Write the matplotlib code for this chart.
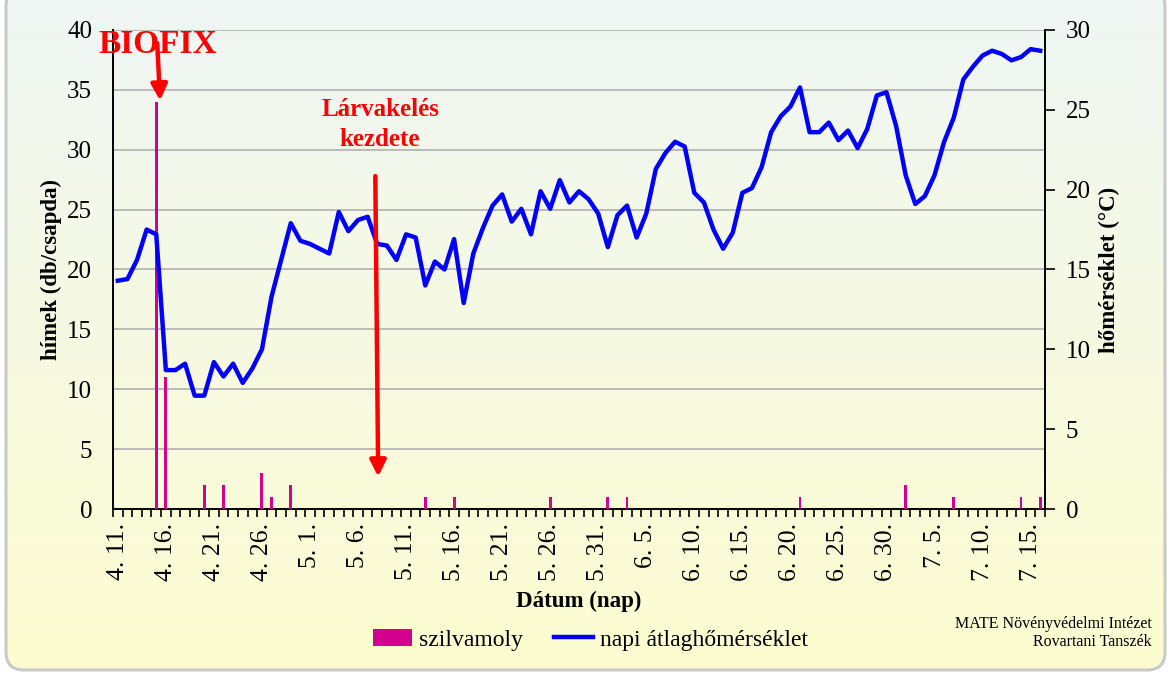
import numpy as np
import pandas as pd
import matplotlib
matplotlib.use('Agg')
import matplotlib.pyplot as plt
from matplotlib.patches import FancyBboxPatch
from matplotlib.ticker import MultipleLocator, FixedLocator

plt.rcParams['font.family'] = ['Liberation Serif', 'DejaVu Serif']

# Daily categories 4.11. .. 7.16.
days = pd.date_range('2023-04-11', '2023-07-16', freq='D')
day_labels = ['{}. {}.'.format(d.month, d.day) for d in days]

# szilvamoly catches (db/csapda), one value per day
moths = [0, 0, 0, 0, 34, 11, 0, 0, 0, 2,
         0, 2, 0, 0, 0, 3, 1, 0, 2, 0,
         0, 0, 0, 0, 0, 0, 0, 0, 0, 0,
         0, 0, 1, 0, 0, 1, 0, 0, 0, 0,
         0, 0, 0, 0, 0, 1, 0, 0, 0, 0,
         0, 1, 0, 1, 0, 0, 0, 0, 0, 0,
         0, 0, 0, 0, 0, 0, 0, 0, 0, 0,
         0, 1, 0, 0, 0, 0, 0, 0, 0, 0,
         0, 0, 2, 0, 0, 0, 0, 1, 0, 0,
         0, 0, 0, 0, 1, 0, 1]

# napi átlaghőmérséklet (°C)
temps = [14.3, 14.4, 15.6, 17.5, 17.2, 8.7, 8.7, 9.1, 7.1, 7.1,
         9.2, 8.3, 9.1, 7.9, 8.8, 10.0, 13.3, 15.6, 17.9, 16.8,
         16.6, 16.3, 16.0, 18.6, 17.4, 18.1, 18.3, 16.6, 16.5, 15.6,
         17.2, 17.0, 14.0, 15.5, 15.0, 16.9, 12.9, 16.0, 17.6, 19.0,
         19.7, 18.0, 18.8, 17.2, 19.9, 18.8, 20.6, 19.2, 19.9, 19.4,
         18.5, 16.4, 18.4, 19.0, 17.0, 18.5, 21.3, 22.3, 23.0, 22.7,
         19.8, 19.2, 17.5, 16.3, 17.3, 19.8, 20.1, 21.4, 23.6, 24.6,
         25.2, 26.4, 23.6, 23.6, 24.2, 23.1, 23.7, 22.6, 23.8, 25.9,
         26.1, 24.0, 20.9, 19.1, 19.6, 20.9, 23.0, 24.5, 26.9, 27.7,
         28.4, 28.7, 28.5, 28.1, 28.3, 28.8, 28.7]

x = np.arange(len(day_labels))

fig = plt.figure(figsize=(11.76, 6.75), dpi=100)

# rounded gradient background panel
bg = fig.add_axes([0, 0, 1, 1], zorder=-10)
bg.set_xlim(0, 1176)
bg.set_ylim(675, 0)
bg.axis('off')
top_c = np.array([0.937, 0.965, 0.961])
bot_c = np.array([0.992, 0.992, 0.816])
t = np.linspace(0, 1, 256)[:, None, None]
grad = top_c * (1 - t) + bot_c * t
grad = np.repeat(grad, 2, axis=1)
panel = FancyBboxPatch((6, -12), 1159, 682, boxstyle='round,pad=0,rounding_size=18',
                       fc='none', ec='#c9c9c9', lw=2.2)
bg.add_patch(panel)
im = bg.imshow(grad, extent=[6, 1165, 670, -12], aspect='auto')
im.set_clip_path(panel)

ax = fig.add_axes([0.0961, 0.2459, 0.7925, 0.7097])
ax.patch.set_alpha(0)
ax2 = ax.twinx()
ax2.patch.set_alpha(0)

bars = ax.bar(x, moths, width=0.3, color='#d4008f', label='szilvamoly', zorder=3)
line, = ax2.plot(x, temps, color='#0000ff', lw=3.2, label='napi átlaghőmérséklet',
                 solid_joinstyle='round')

ax.set_xlim(-0.5, len(x) - 0.5)
ax.set_ylim(0, 40)
ax2.set_ylim(0, 30)
ax.yaxis.set_major_locator(MultipleLocator(5))
ax2.yaxis.set_major_locator(MultipleLocator(5))
ax.grid(axis='y', color='#b5b5b5', lw=1.3, zorder=0)
ax.set_axisbelow(True)

ax.set_xticks(x[::5])
ax.set_xticklabels(day_labels[::5], rotation=90)
ax.xaxis.set_minor_locator(FixedLocator(np.arange(-0.5, len(x), 1.0)))
ax.tick_params(axis='x', which='major', length=0, pad=10, labelsize=18.5)
ax.tick_params(axis='x', which='minor', length=6, width=1.2, direction='out')
ax.tick_params(axis='y', length=0, pad=15, labelsize=18)
ax2.tick_params(axis='y', length=7, width=1.2, direction='out', pad=8, labelsize=18)

for a in (ax, ax2):
    a.spines['top'].set_visible(False)
    for s in ('left', 'right', 'bottom'):
        a.spines[s].set_linewidth(1.4)
ax.spines['right'].set_visible(False)
ax2.spines['left'].set_visible(False)
ax2.spines['bottom'].set_visible(False)

ax.set_ylabel('hímek (db/csapda)', fontsize=16.5, fontweight='bold', labelpad=4)
ax2.set_ylabel('hőmérséklet (°C)', fontsize=16.5, fontweight='bold', labelpad=6)
ax.set_xlabel('Dátum (nap)', fontsize=16.5, fontweight='bold', labelpad=7)

# annotations
ax2.text(4.2, 38.8, 'BIOFIX', transform=ax.transData, color='red', fontsize=24,
         fontweight='bold', ha='center', va='center', clip_on=False, zorder=5)
ax2.annotate('', xy=(4.4, 34.1), xycoords=ax.transData, xytext=(4.1, 38.9),
             textcoords=ax.transData,
             arrowprops=dict(arrowstyle='-|>', color='red', lw=3.2, mutation_scale=24,
                             shrinkA=0, shrinkB=0), zorder=6)
ax2.text(27.3, 32.1, 'Lárvakelés\nkezdete', transform=ax.transData, color='red',
         fontsize=18, fontweight='bold', ha='center', va='center', linespacing=1.35,
         zorder=5)
ax2.annotate('', xy=(27.1, 2.7), xycoords=ax.transData, xytext=(26.8, 27.8),
             textcoords=ax.transData,
             arrowprops=dict(arrowstyle='-|>', color='red', lw=3.2, mutation_scale=24,
                             shrinkA=0, shrinkB=0), zorder=6)

fig.legend([bars, line], ['szilvamoly', 'napi átlaghőmérséklet'], loc='center',
           bbox_to_anchor=(0.502, 0.052), ncol=2, frameon=False, fontsize=17,
           handlelength=1.65, handletextpad=0.3, columnspacing=1.3, borderpad=0)

fig.text(0.979, 0.062, 'MATE Növényvédelmi Intézet\nRovartani Tanszék', ha='right',
         va='center', fontsize=11.5, linespacing=1.2)

fig.savefig('out.png', dpi=100)
